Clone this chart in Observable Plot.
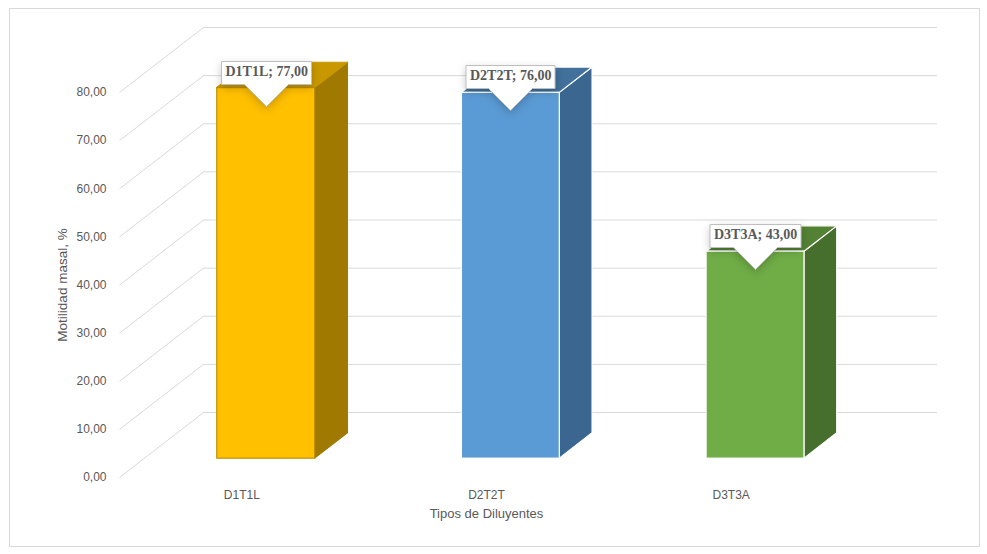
<!DOCTYPE html>
<html>
<head>
<meta charset="utf-8">
<script src="https://cdn.jsdelivr.net/npm/d3@7"></script>
<script src="https://cdn.jsdelivr.net/npm/@observablehq/plot@0.6"></script>
<style>
  body { margin: 0; background: #ffffff; }
  #wrap { position: relative; width: 987px; height: 554px; overflow: hidden; }
  #border { position: absolute; left: 9px; top: 8px; width: 971px; height: 539px; box-sizing: border-box; border: 1px solid #d9d9d9; pointer-events: none; }
  #chart { position: absolute; left: 0; top: 0; }
  svg [aria-label="tip"] text { fill: #595959; }
</style>
</head>
<body>
<div id="wrap"><div id="chart"></div><div id="border"></div></div>
<script>
// ---- data ----
const categories = ["D1T1L", "D2T2T", "D3T3A"];
const values = [77, 76, 43];
const yTicks = [0, 10, 20, 30, 40, 50, 60, 70, 80];
const frontColors = ["#FFC000", "#5B9BD5", "#70AD47"];
const topColors = ["#C99800", "#41719C", "#548235"];
const sideColors = ["#A07A00", "#3A6690", "#466F2D"];
const edgeColors = ["#BF9000", "#FFFFFF", "#FFFFFF"];
const sideEdge = ["#A07A00", "#FFFFFF", "#FFFFFF"];
const topEdge = ["#C99800", "#FFFFFF", "#FFFFFF"];

// ---- layout (3D look) ----
const W = 987, H = 554;
const mL = 119, mR = 50, mT = 27, mB = 77;
const depthPxX = 84, depthPxY = 65;       // pixel depth of the floor
const yMax = 80;
const catPx = (W - mL - mR - depthPxX) / categories.length;
const DX = depthPxX / catPx;               // depth in category units
const valuePx = (H - mT - mB - depthPxY) / yMax;
const DY = depthPxY / valuePx;             // depth in value units
const z0 = 0.29, z1 = 0.68;                // bar front/back depth
const b0 = 0.3, b1 = 0.7;                  // bar within band

const bars = categories.map((c, i) => ({i, c, v: values[i]}));
const fronts = bars.map(d => ({
  i: d.i,
  x1: d.i + b0 + z0 * DX, x2: d.i + b1 + z0 * DX,
  y1: z0 * DY, y2: d.v + z0 * DY
}));
const sides = bars.flatMap(d => [z0, z1].map(z => ({
  i: d.i, x: d.i + b1 + z * DX, y1: z * DY, y2: d.v + z * DY
})));
const tops = bars.flatMap(d => [z0, z1].map(z => ({
  i: d.i, y: d.v + z * DY, x1: d.i + b0 + z * DX, x2: d.i + b1 + z * DX
})));

const fmt = v => v.toFixed(2).replace(".", ",");
const grid = "#d9d9d9";

const chart = Plot.plot({
  width: W, height: H,
  marginLeft: mL, marginRight: mR, marginTop: mT, marginBottom: mB,
  x: {domain: [0, categories.length + DX], axis: null},
  y: {domain: [0, yMax + DY], axis: null},
  color: {type: "identity"},
  style: {fontFamily: "Liberation Sans, Arial, sans-serif", color: "#595959", background: "transparent"},
  marks: [
    // back wall gridlines
    Plot.ruleY(yTicks, {y: d => d + DY, x1: DX, x2: categories.length + DX, stroke: grid, strokeWidth: 1}),
    // side wall diagonals
    Plot.link(yTicks, {x1: 0, y1: d => d, x2: DX, y2: d => d + DY, stroke: grid, strokeWidth: 1}),
    // y tick labels
    Plot.text(yTicks, {x: 0, y: d => d, text: d => fmt(d), textAnchor: "end", dx: -13, fill: "#595959", fontSize: 12}),
    // bar side faces
    Plot.areaY(sides, {x: "x", y1: "y1", y2: "y2", z: "i", fill: d => sideColors[d.i], stroke: d => sideEdge[d.i], strokeWidth: 1.2}),
    // bar top faces
    Plot.areaX(tops, {y: "y", x1: "x1", x2: "x2", z: "i", fill: d => topColors[d.i], stroke: d => topEdge[d.i], strokeWidth: 1.2}),
    // bar front faces
    Plot.rect(fronts, {x1: "x1", x2: "x2", y1: "y1", y2: "y2", fill: d => frontColors[d.i], stroke: d => edgeColors[d.i], strokeWidth: 1.2}),
    // category labels
    Plot.text(bars, {x: d => d.i + 0.5, y: () => 0, text: "c", dy: 18, fill: "#595959", fontSize: 12}),
    // axis titles
    Plot.text(["Tipos de Diluyentes"], {x: () => categories.length / 2, frameAnchor: "bottom", dy: 40, fill: "#595959", fontSize: 13}),
    Plot.text(["Motilidad masal, %"], {y: () => yMax / 2, frameAnchor: "left", textAnchor: "middle", rotate: -90, dx: -57, fill: "#595959", fontSize: 13.5}),
    // data label callouts
    Plot.tip(bars, {
      x: d => d.i + 0.5 + z0 * DX, y: d => d.v + z0 * DY,
      dy: 18, anchor: "bottom", pointerSize: 44, textPadding: 4,
      title: d => `${d.c}; ${fmt(d.v)}`,
      fontFamily: "Liberation Serif, Times New Roman, serif", fontWeight: "bold", fontSize: 14,
      fill: "white", stroke: "#bfbfbf"
    })
  ]
});
document.getElementById("chart").appendChild(chart);
</script>
</body>
</html>
